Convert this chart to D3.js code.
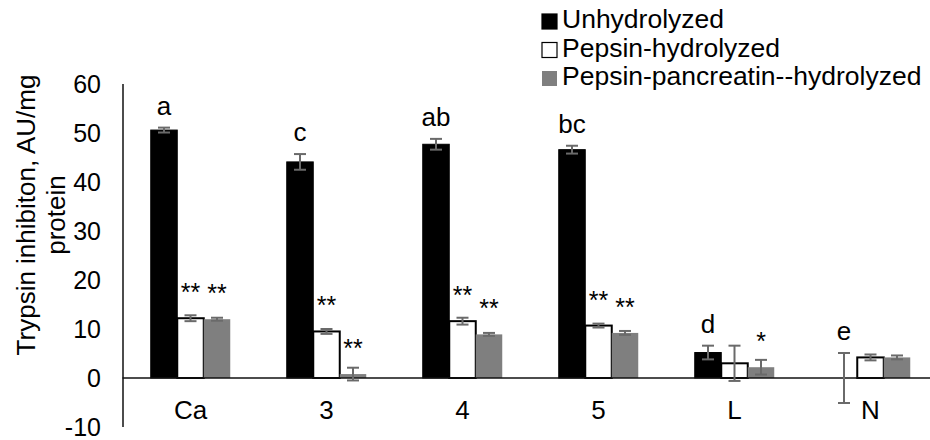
<!DOCTYPE html>
<html lang="en">
<head>
  <meta charset="UTF-8">
  <title>Trypsin inhibitor chart</title>
  <style>
    body { margin: 0; background: #fff; }
    text { font-family: "Liberation Sans", Arial, sans-serif; fill: #000; }
  </style>
</head>
<body>
  <svg id="chart" width="930" height="440"></svg>

  <script src="https://d3js.org/d3.v7.min.js"></script>
  <script>
    // data
    var categories = ["Ca", "3", "4", "5", "L", "N"];
    var seriesNames = ["Unhydrolyzed", "Pepsin-hydrolyzed", "Pepsin-pancreatin--hydrolyzed"];
    var unhydrolyzed = [50.6, 44.1, 47.7, 46.6, 5.2, 0];
    var unhydrolyzedErr = [0.5, 1.6, 1.1, 0.8, 1.4, 5.1];
    var pepsin = [12.2, 9.5, 11.6, 10.7, 3.0, 4.2];
    var pepsinErr = [0.6, 0.5, 0.7, 0.4, 3.6, 0.6];
    var pepPan = [12.0, 0.8, 8.9, 9.2, 2.2, 4.2];
    var pepPanErr = [0.3, 1.3, 0.3, 0.4, 1.5, 0.4];
    var letters = ["a", "c", "ab", "bc", "d", "e"];
    var pepsinStars = ["**", "**", "**", "**", "", ""];
    var pepPanStars = ["**", "**", "**", "**", "*", ""];
    var yTicks = [-10, 0, 10, 20, 30, 40, 50, 60];

    var svg = d3.select("#chart");
    var fills = ["#000000", "#ffffff", "#7f7f7f"];
    var strokes = ["#000000", "#000000", "none"];
    var errColor = "#6a6a6a";

    var x = d3.scaleBand().domain(categories).range([122.5, 938.5]).paddingInner(0);
    var xs = d3.scaleBand().domain(d3.range(3)).range([28.25, 107.75]);
    var y = d3.scaleLinear().domain([-10, 60]).range([427, 84]);

    var values = [unhydrolyzed, pepsin, pepPan];
    var errs = [unhydrolyzedErr, pepsinErr, pepPanErr];

    // one row per bar
    var rows = [];
    categories.forEach(function(c, i) {
      for (var s = 0; s < 3; s++) {
        rows.push({ cat: c, s: s, v: values[s][i], e: errs[s][i], i: i });
      }
    });

    // y axis labels (plain hyphen for negatives, like the original)
    var yAxis = d3.axisLeft(y).tickValues(yTicks).tickSize(0).tickPadding(0)
      .tickFormat(function(d) { return String(d); });
    var ya = svg.append("g").attr("transform", "translate(101,0)").call(yAxis);
    ya.select(".domain").remove();
    ya.selectAll("text").attr("font-size", 25).attr("font-family", "Liberation Sans, Arial, sans-serif")
      .attr("fill", "#000");

    // bars
    svg.append("g").selectAll("rect").data(rows).enter().append("rect")
      .attr("x", function(d) { return x(d.cat) + xs(d.s); })
      .attr("y", function(d) { return y(Math.max(d.v, 0)); })
      .attr("width", xs.bandwidth())
      .attr("height", function(d) { return Math.abs(y(d.v) - y(0)); })
      .attr("fill", function(d) { return fills[d.s]; })
      .attr("stroke", function(d) { return strokes[d.s]; })
      .attr("stroke-width", function(d) { return d.s == 1 ? 2 : 1; });

    // axis lines
    svg.append("line").attr("x1", 123).attr("x2", 123).attr("y1", y(60)).attr("y2", y(-10))
      .attr("stroke", "#111").attr("stroke-width", 1.5);
    svg.append("line").attr("x1", 122.5).attr("x2", 938.5).attr("y1", y(0)).attr("y2", y(0))
      .attr("stroke", "#111").attr("stroke-width", 1.5);

    // error bars
    var eb = svg.append("g").attr("stroke", errColor).attr("stroke-width", 2);
    rows.forEach(function(d) {
      var cx = x(d.cat) + xs(d.s) + xs.bandwidth() / 2;
      eb.append("line").attr("x1", cx).attr("x2", cx).attr("y1", y(d.v - d.e)).attr("y2", y(d.v + d.e));
      eb.append("line").attr("x1", cx - 6).attr("x2", cx + 6).attr("y1", y(d.v - d.e)).attr("y2", y(d.v - d.e));
      eb.append("line").attr("x1", cx - 6).attr("x2", cx + 6).attr("y1", y(d.v + d.e)).attr("y2", y(d.v + d.e));
    });

    // letters over unhydrolyzed bars
    svg.append("g").selectAll("text").data(categories).enter().append("text")
      .attr("x", function(c) { return x(c) + xs(0) + xs.bandwidth() / 2; })
      .attr("y", function(c, i) { return y(unhydrolyzed[i] + unhydrolyzedErr[i]) - 13; })
      .attr("text-anchor", "middle").attr("font-size", 26)
      .text(function(c, i) { return letters[i]; });

    // stars over hydrolyzed bars
    [[1, pepsin, pepsinStars], [2, pepPan, pepPanStars]].forEach(function(p) {
      svg.append("g").selectAll("text").data(categories).enter().append("text")
        .attr("x", function(c) { return x(c) + xs(p[0]) + xs.bandwidth() / 2; })
        .attr("y", function(c, i) { return y(p[1][i]) - 17; })
        .attr("text-anchor", "middle").attr("font-size", 25)
        .text(function(c, i) { return p[2][i]; });
    });

    // category labels
    svg.append("g").selectAll("text").data(categories).enter().append("text")
      .attr("x", function(c) { return x(c) + x.bandwidth() / 2; })
      .attr("y", 419)
      .attr("text-anchor", "middle").attr("font-size", 26)
      .text(function(c) { return c; });

    // y title
    var title = svg.append("text").attr("transform", "translate(35,215) rotate(-90)")
      .attr("text-anchor", "middle").attr("font-size", 26);
    title.append("tspan").attr("x", 0).attr("dy", 0).text("Trypsin inhibiton, AU/mg");
    title.append("tspan").attr("x", 0).attr("dy", 30).text("protein");

    // legend
    var legend = svg.append("g").selectAll("g").data(seriesNames).enter().append("g")
      .attr("transform", function(d, i) { return "translate(541," + (28 + i * 28.5) + ")"; });
    legend.append("rect").attr("x", 1).attr("y", -14).attr("width", 15).attr("height", 15)
      .attr("fill", function(d, i) { return fills[i]; })
      .attr("stroke", function(d, i) { return i == 2 ? "none" : "#000"; })
      .attr("stroke-width", 1.2);
    legend.append("text").attr("x", 21).attr("y", 0).attr("font-size", 26.5)
      .text(function(d) { return d; });
  </script>
</body>
</html>
